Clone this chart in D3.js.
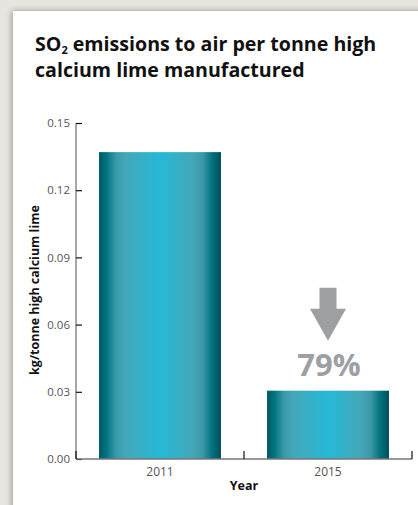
<!DOCTYPE html>
<html><head><meta charset="utf-8">
<script src="https://cdn.jsdelivr.net/npm/d3@7"></script>
<style>
html,body{margin:0;padding:0;background:#e8e4df;}
svg{display:block;}
</style></head>
<body>
<script>
const categories = ["2011", "2015"];
const values = [0.137, 0.0305];
const yTicks = [0, 0.03, 0.06, 0.09, 0.12, 0.15];
const reductionLabel = "79%";
const titleLines = ["SO|2| emissions to air per tonne high", "calcium lime manufactured"];
const yTitle = "kg/tonne high calcium lime";
const xTitle = "Year";

(function(){
const W = 418, H = 505;
const FF = "'Open Sans', sans-serif";
const svg = d3.select("body").append("svg").attr("width", W).attr("height", H);
const defs = svg.append("defs");

// shadow
const f = defs.append("filter").attr("id","sh").attr("x","-10%").attr("y","-10%").attr("width","130%").attr("height","130%");
f.append("feGaussianBlur").attr("in","SourceAlpha").attr("stdDeviation",3);
f.append("feOffset").attr("dx",-1).attr("dy",0).attr("result","b");
f.append("feComponentTransfer").append("feFuncA").attr("type","linear").attr("slope",0.35);
const m = f.append("feMerge"); m.append("feMergeNode"); m.append("feMergeNode").attr("in","SourceGraphic");

svg.append("rect").attr("x",0).attr("y",0).attr("width",W).attr("height",H).attr("fill","#e8e4df");
svg.append("rect").attr("x",13).attr("y",11).attr("width",W+20).attr("height",H+20).attr("fill","#fff").attr("filter","url(#sh)");

// gradient
const g = defs.append("linearGradient").attr("id","bg").attr("x1","0").attr("x2","1").attr("y1","0").attr("y2","0");
[[0,"#005a64"],[0.06,"#00747f"],[0.14,"#3a9aaa"],[0.22,"#44a8b9"],[0.5,"#24b9d7"],[0.76,"#44a8b9"],[0.85,"#3a98a8"],[0.93,"#00717c"],[1,"#00505a"]]
  .forEach(([o,c])=>g.append("stop").attr("offset",o).attr("stop-color",c));

// title
const parts = titleLines[0].split("|");
const t1 = svg.append("text").attr("x",35).attr("y",51).attr("font-family",FF).attr("font-weight",700)
  .attr("font-size",19.6).attr("fill","#111");
t1.append("tspan").text(parts[0]);
t1.append("tspan").attr("font-size",11).attr("dy",3).text(parts[1]);
t1.append("tspan").attr("dy",-3).text(parts[2]);
svg.append("text").attr("x",35).attr("y",77).attr("font-family",FF).attr("font-weight",700)
  .attr("font-size",19.6).attr("fill","#111").text(titleLines[1]);

const x0 = 76, x1 = 412, y0 = 459, y1 = 123;
const x = d3.scaleBand().domain(categories).range([x0,x1]).paddingInner(0.274).paddingOuter(0.137);
const xb = d3.scaleBand().domain(categories).range([x0,x1]).padding(0);
const y = d3.scaleLinear().domain([0,0.15]).range([y0,y1]);

// bars
svg.selectAll("rect.bar").data(values).join("rect").attr("class","bar")
  .attr("x",(d,i)=>x(categories[i])).attr("width",x.bandwidth())
  .attr("y",d=>y(d)).attr("height",d=>y0-y(d)).attr("fill","url(#bg)");

// y axis
const ya = svg.append("g").attr("transform",`translate(${x0},0)`)
  .call(d3.axisRight(y).tickValues(yTicks).tickSize(6).tickFormat(d3.format(".2f")));
ya.select(".domain").attr("stroke","#8a8a8a").attr("stroke-width",1.5).attr("d",`M0,${y1}V${y0}`);
ya.selectAll(".tick line").attr("stroke","#111").attr("stroke-width",1.2);
ya.selectAll(".tick text").attr("x",-6).attr("text-anchor","end").attr("fill","#555")
  .attr("font-family",FF).attr("font-size",11.5);

// x axis
const xa = svg.append("g").attr("transform",`translate(0,${y0})`)
  .call(d3.axisBottom(x).tickSize(0).tickPadding(8));
xa.select(".domain").attr("stroke","#777").attr("stroke-width",1.5).attr("d",`M${x0},0H${x1}`);
xa.selectAll(".tick text").attr("fill","#555").attr("font-family",FF).attr("font-size",12);
const bounds = [x0].concat(categories.map(c=>xb(c)+xb.bandwidth()));
xa.selectAll("line.bt").data(bounds).join("line").attr("class","bt")
  .attr("x1",d=>d).attr("x2",d=>d).attr("y1",0).attr("y2",-8).attr("stroke","#111").attr("stroke-width",1.2);

// axis titles
svg.append("text").attr("x",(x0+x1)/2).attr("y",490).attr("text-anchor","middle")
  .attr("font-family",FF).attr("font-weight",700).attr("font-size",12.5).attr("fill","#111").text(xTitle);
svg.append("text").attr("transform",`translate(39,290) rotate(-90)`).attr("text-anchor","middle")
  .attr("font-family",FF).attr("font-weight",700).attr("font-size",12.5).attr("fill","#111").text(yTitle);

// arrow + label
const cx = x(categories[1]) + x.bandwidth()/2;
const bt = y(values[1]);
svg.append("path").attr("fill","#9d9fa2")
  .attr("d",`M${cx-8.5},${bt-103}H${cx+8.5}V${bt-82}H${cx+18}L${cx},${bt-50}L${cx-18},${bt-82}H${cx-8.5}Z`);
svg.append("text").attr("x",cx+1).attr("y",bt-15).attr("text-anchor","middle")
  .attr("font-family",FF).attr("font-weight",700).attr("font-size",31).attr("fill","#9d9fa2").text(reductionLabel);
})();
</script>
</body></html>
